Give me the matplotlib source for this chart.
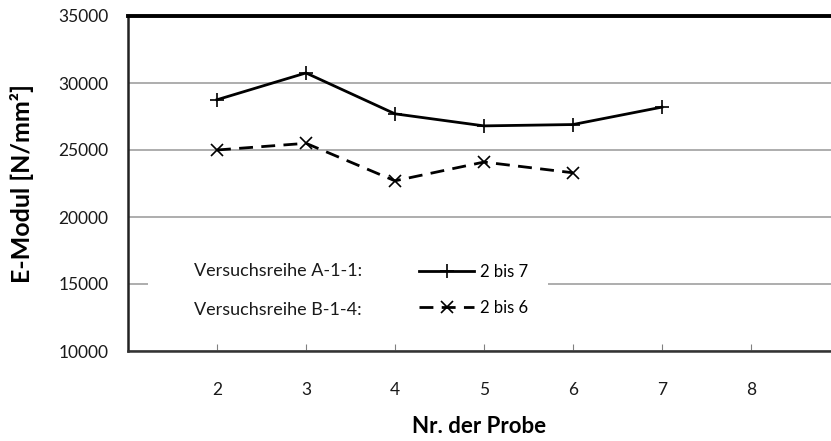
import matplotlib
matplotlib.use("Agg")
import matplotlib.pyplot as plt
from matplotlib.patches import Rectangle

# ===== data =====
probe_a = [2, 3, 4, 5, 6, 7]
emodul_a = [28750, 30750, 27700, 26800, 26900, 28200]
probe_b = [2, 3, 4, 5, 6]
emodul_b = [25000, 25500, 22700, 24100, 23300]
x_ticks = [2, 3, 4, 5, 6, 7, 8]
y_ticks = [10000, 15000, 20000, 25000, 30000, 35000]

plt.rcParams['font.family'] = ['Lato', 'DejaVu Sans']

fig = plt.figure(figsize=(8.31, 4.41), dpi=100)
ax = fig.add_axes([128/831, (441-351)/441, 703/831, 335/441])

ax.plot(probe_a, emodul_a, color='black', linewidth=2.0, marker='+',
        markersize=10, markeredgewidth=1.2, label='2 bis 7', zorder=3)
ax.plot(probe_b, emodul_b, color='black', linewidth=2.0, marker='x',
        markersize=8, markeredgewidth=1.2, dashes=(5, 3), label='2 bis 6', zorder=3)

ax.set_xlim(1, 8.9)
ax.set_ylim(10000, 35000)
ax.set_xticks(x_ticks)
ax.set_yticks(y_ticks)
ax.yaxis.grid(True, color='#a0a0a0', linewidth=1.2)
ax.set_axisbelow(True)

ax.spines['right'].set_visible(False)
ax.spines['top'].set_linewidth(2.8)
ax.spines['top'].set_color('black')
ax.spines['left'].set_linewidth(1.8)
ax.spines['left'].set_color('#222222')
ax.spines['bottom'].set_linewidth(1.8)
ax.spines['bottom'].set_color('#333333')

ax.tick_params(axis='x', direction='in', length=5, color='#808080', pad=22,
               labelsize=12.5, labelcolor='#1a1a1a')
ax.tick_params(axis='y', length=0, pad=14, labelsize=12.5, labelcolor='#1a1a1a')

ax.set_xlabel('Nr. der Probe', fontsize=16, fontweight='bold')
ax.xaxis.set_label_coords(0.5, (351-416)/335)
ax.set_ylabel('E-Modul [N/mm²]', fontsize=18, fontweight='bold')
ax.yaxis.set_label_coords((34-128)/703, 0.5)

# white box behind the legend covering the grid line
ax.add_patch(Rectangle(((148-128)/703, (351-327)/335), (548-148)/703, 75/335,
                       transform=ax.transAxes, facecolor='white', edgecolor='none', zorder=1))

ax.text((194-128)/703, (351-271)/335, 'Versuchsreihe A-1-1:', transform=ax.transAxes,
        fontsize=13, va='center', ha='left', color='#1a1a1a', zorder=4)
ax.text((194-128)/703, (351-310)/335, 'Versuchsreihe B-1-4:', transform=ax.transAxes,
        fontsize=13, va='center', ha='left', color='#1a1a1a', zorder=4)

leg = ax.legend(loc='center left', bbox_to_anchor=((419-128)/703, (351-290)/335),
                frameon=False, fontsize=12, handlelength=3.3, handletextpad=0.35,
                labelspacing=1.2, borderpad=0, borderaxespad=0)
leg.set_zorder(4)

fig.savefig('out.png', dpi=100)
